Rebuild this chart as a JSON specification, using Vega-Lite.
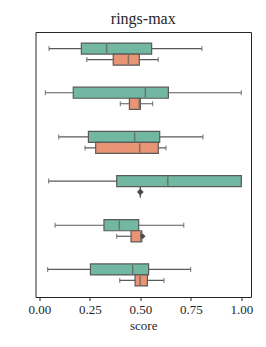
{
  "$schema": "https://vega.github.io/schema/vega-lite/v6.json",
  "autosize": "none",
  "width": 215.5,
  "height": 265,
  "padding": {"left": 35.5, "top": 32, "right": 15, "bottom": 50},
  "background": "white",
  "config": {
    "font": "Liberation Serif",
    "view": {"stroke": "#262626", "strokeWidth": 1}
  },
  "title": {"text": "rings-max", "fontSize": 16, "fontWeight": "normal", "color": "#262626", "offset": 5, "anchor": "middle"},
  "datasets": {
    "boxes": [
      {"group": "g1", "hue": "a", "min": 0.048, "q1": 0.208, "median": 0.333, "q3": 0.556, "max": 0.805},
      {"group": "g1", "hue": "b", "min": 0.235, "q1": 0.366, "median": 0.441, "q3": 0.495, "max": 0.589},
      {"group": "g2", "hue": "a", "min": 0.030, "q1": 0.168, "median": 0.525, "q3": 0.639, "max": 1.0},
      {"group": "g2", "hue": "b", "min": 0.401, "q1": 0.446, "median": 0.495, "q3": 0.500, "max": 0.561},
      {"group": "g3", "hue": "a", "min": 0.096, "q1": 0.243, "median": 0.472, "q3": 0.596, "max": 0.810},
      {"group": "g3", "hue": "b", "min": 0.226, "q1": 0.279, "median": 0.497, "q3": 0.589, "max": 0.627},
      {"group": "g4", "hue": "a", "min": 0.046, "q1": 0.383, "median": 0.636, "q3": 1.0, "max": 1.0},
      {"group": "g4", "hue": "b", "min": 0.5, "q1": 0.5, "median": 0.5, "q3": 0.5, "max": 0.5},
      {"group": "g5", "hue": "a", "min": 0.078, "q1": 0.320, "median": 0.396, "q3": 0.492, "max": 0.715},
      {"group": "g5", "hue": "b", "min": 0.383, "q1": 0.454, "median": 0.502, "q3": 0.507, "max": 0.507},
      {"group": "g6", "hue": "a", "min": 0.041, "q1": 0.253, "median": 0.462, "q3": 0.541, "max": 0.749},
      {"group": "g6", "hue": "b", "min": 0.398, "q1": 0.474, "median": 0.499, "q3": 0.535, "max": 0.617}
    ],
    "outliers": [
      {"group": "g4", "hue": "b", "value": 0.497},
      {"group": "g4", "hue": "b", "value": 0.5},
      {"group": "g4", "hue": "b", "value": 0.503},
      {"group": "g5", "hue": "b", "value": 0.512}
    ]
  },
  "encoding": {
    "y": {"field": "group", "type": "nominal", "sort": ["g1", "g2", "g3", "g4", "g5", "g6"], "axis": null,
          "scale": {"paddingInner": 0, "paddingOuter": 0}},
    "yOffset": {"field": "hue", "type": "nominal", "sort": ["a", "b"],
                "scale": {"paddingInner": 0, "paddingOuter": 1.45}}
  },
  "layer": [
    {
      "data": {"name": "boxes"},
      "mark": {"type": "rule", "color": "#5a5a5a", "strokeWidth": 1.2},
      "encoding": {
        "x": {"field": "min", "type": "quantitative",
              "scale": {"domain": [-0.019, 1.048], "nice": false, "zero": false},
              "axis": {"title": "score", "values": [0, 0.25, 0.5, 0.75, 1.0], "format": ".2f",
                       "grid": false, "domain": false, "tickColor": "#262626", "tickSize": 3.5,
                       "labelFontSize": 13, "labelColor": "#262626", "labelPadding": 3,
                       "titleFontSize": 13, "titleFontWeight": "normal", "titleColor": "#262626", "titlePadding": 3}},
        "x2": {"field": "max"}
      }
    },
    {
      "data": {"name": "boxes"},
      "mark": {"type": "tick", "color": "#5a5a5a", "thickness": 1.2, "size": 5, "orient": "vertical"},
      "encoding": {"x": {"field": "min", "type": "quantitative"}}
    },
    {
      "data": {"name": "boxes"},
      "mark": {"type": "tick", "color": "#5a5a5a", "thickness": 1.2, "size": 5, "orient": "vertical"},
      "encoding": {"x": {"field": "max", "type": "quantitative"}}
    },
    {
      "data": {"name": "boxes"},
      "mark": {"type": "bar", "stroke": "#5a5a5a", "strokeWidth": 1.2, "opacity": 1},
      "encoding": {
        "x": {"field": "q1", "type": "quantitative"},
        "x2": {"field": "q3"},
        "color": {"field": "hue", "type": "nominal", "legend": null,
                  "scale": {"domain": ["a", "b"], "range": ["#71b7a1", "#e99575"]}}
      }
    },
    {
      "data": {"name": "boxes"},
      "mark": {"type": "tick", "color": "#5a5a5a", "thickness": 1.5, "size": 9, "orient": "vertical"},
      "encoding": {"x": {"field": "median", "type": "quantitative"}}
    },
    {
      "data": {"name": "outliers"},
      "mark": {"type": "point", "shape": "diamond", "filled": true, "color": "#4a4a4a", "size": 30, "opacity": 1},
      "encoding": {"x": {"field": "value", "type": "quantitative"}}
    }
  ]
}
